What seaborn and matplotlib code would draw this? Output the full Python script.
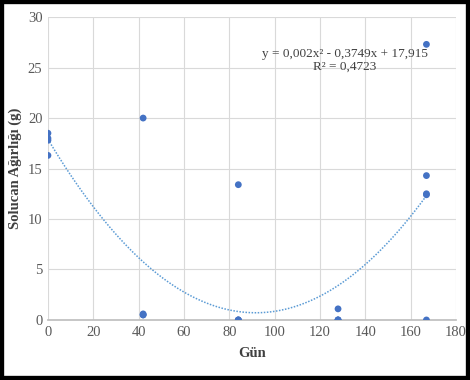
import numpy as np
import pandas as pd
import seaborn as sns
import matplotlib.pyplot as plt
from matplotlib.patches import Rectangle

gun = [0, 0, 0, 0, 42, 42, 42, 42, 84, 84, 84, 84, 128, 128, 128, 128, 167, 167, 167, 167, 167]
agirlik = [18.5, 18.0, 17.8, 16.3, 20.0, 0.6, 0.5, 0.5, 13.4, 0.0, 0.0, 0.0, 1.1, 0.0, 0.0, 0.0, 27.3, 14.3, 12.5, 12.4, 0.0]
denklem = "y = 0,002x² - 0,3749x + 17,915\nR² = 0,4723"

df = pd.DataFrame({"Gün": gun, "Agirlik": agirlik})

sns.set_theme(style="whitegrid")
plt.rcParams['font.family'] = ['Liberation Serif', 'DejaVu Serif']

fig = plt.figure(figsize=(4.7, 3.8), dpi=100)
ax = fig.add_axes([0.102, 0.158, 0.868, 0.797])

blue = "#4472c4"
sns.regplot(data=df, x="Gün", y="Agirlik", order=2, ci=None, ax=ax,
            scatter_kws={"s": 24, "color": blue, "edgecolor": "none", "alpha": 1, "zorder": 3},
            line_kws={"color": "#5b9bd5", "lw": 1.1, "ls": (0, (1, 1)), "zorder": 2},
            truncate=True)

ax.set_xlim(0, 180)
ax.set_ylim(0, 30)
ax.set_xticks(range(0, 181, 20))
ax.set_yticks(range(0, 31, 5))
ax.grid(color="#d9d9d9", lw=0.8)
for s in ["top", "right", "left"]:
    ax.spines[s].set_visible(False)
ax.spines["bottom"].set_color("#bfbfbf")
ax.tick_params(colors="#595959", labelsize=10.5, length=0, pad=4)
ax.set_xlabel("Gün", fontsize=10.5, fontweight="bold", color="#404040", labelpad=6)
ax.set_ylabel("Solucan Ağırlığı (g)", fontsize=10.5, fontweight="bold", color="#404040", labelpad=4)

ax.text(131, 25.7, denklem, ha="center", va="center", fontsize=9.5,
        color="#404040", linespacing=1.05)

# black frame around the image
fig.patches.append(Rectangle((0, 0), 1, 1, transform=fig.transFigure, fill=False,
                             edgecolor="black", lw=6, clip_on=False))

fig.savefig("out.png", dpi=100)
